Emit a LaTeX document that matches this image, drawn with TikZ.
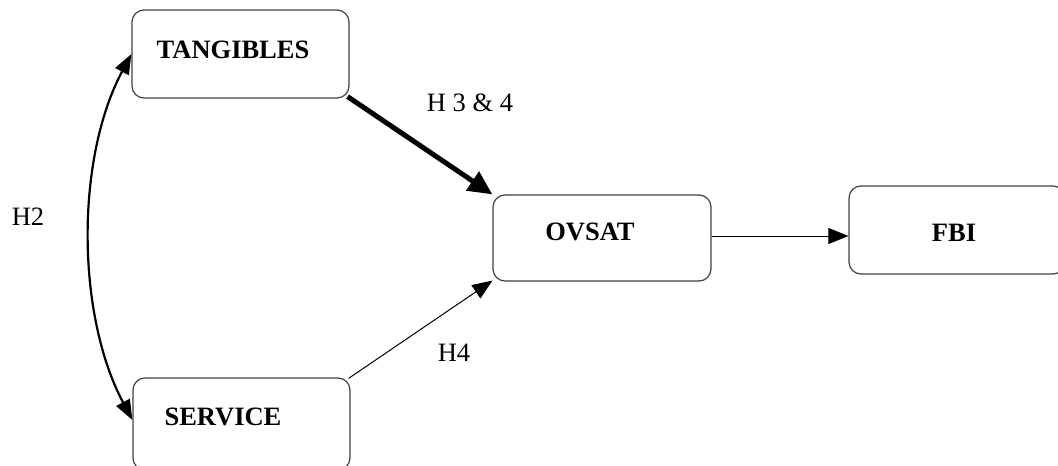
\documentclass[tikz,border=0pt]{standalone}
\usepackage{fontspec}
\setmainfont{Liberation Serif}
\usetikzlibrary{arrows.meta}
\begin{document}
\begin{tikzpicture}[x=1pt,y=-1pt,
  box/.style={draw=black!75,line width=1.2pt,rounded corners=12pt,inner sep=0pt},
  txt/.style={inner sep=0pt,font=\fontsize{26.5}{30}\selectfont\bfseries},
  lbl/.style={inner sep=0pt,font=\fontsize{26.5}{30}\selectfont},
  thin/.style={line width=1pt,-{Triangle[length=20pt,width=16pt]}},
  thick/.style={line width=5pt,-{Triangle[length=24pt,width=22pt]}},
  curvy/.style={line width=2.2pt,{Triangle[length=20pt,width=15pt]}-{Triangle[length=20pt,width=15pt]}}]
\useasboundingbox (0,0) rectangle (1058,466);
\node[box,minimum width=217pt,minimum height=88pt] (t) at (240.5,54) {};
\node[box,minimum width=217pt,minimum height=92pt] (s) at (241.5,424) {};
\node[box,minimum width=218pt,minimum height=86pt] (o) at (602,238) {};
\node[box,minimum width=216pt,minimum height=88pt] (f) at (957,230) {};
\node[txt] (tt) at (233,50) {TANGIBLES};
\node[txt] (st) at (223,417) {SERVICE};
\node[txt] (ot) at (590,232) {OVSAT};
\node[txt] (ft) at (954,233) {FBI};
\node[lbl] (l34) at (470,103) {H 3 \& 4};
\node[lbl] (l4) at (454,353) {H4};
\node[lbl] (l2) at (28,217) {H2};
\draw[thick] ([xshift=-2pt,yshift=2pt]t.south east) -- (o.north west);
\draw[thin] ([xshift=-2pt,yshift=-1pt]s.north east) -- ([yshift=1pt]o.south west);
\draw[thin] ([yshift=2pt]o.east) -- ([yshift=-6pt]f.west);
\draw[curvy] (t.west) .. controls +(-56,105) and +(-56,-105) .. ([yshift=4pt]s.west);
\end{tikzpicture}
\end{document}
